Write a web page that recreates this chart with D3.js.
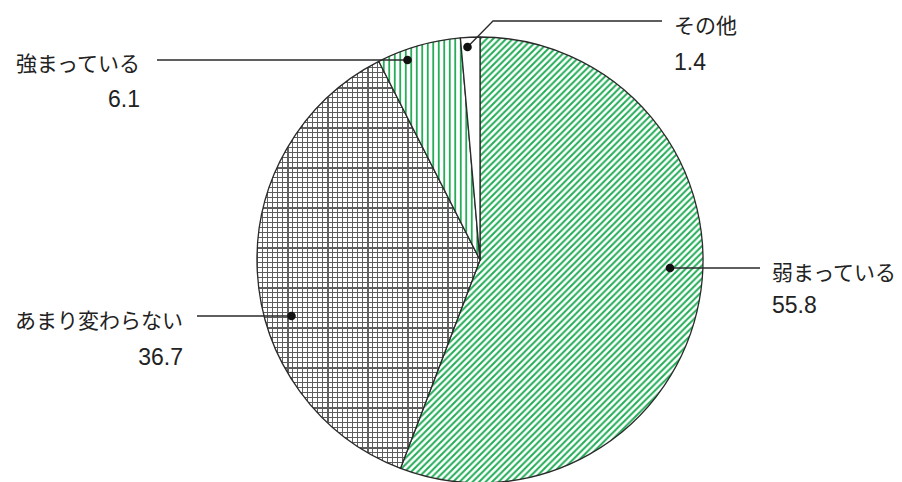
<!DOCTYPE html>
<html lang="ja">
<head>
<meta charset="utf-8">
<script src="https://cdn.jsdelivr.net/npm/d3@7"></script>
<style>
  html, body { margin: 0; padding: 0; background: #fff; }
  svg { display: block; }
</style>
</head>
<body>
<svg id="chart" width="902" height="482"></svg>
<script>
// Survey answers, clockwise from 12 o'clock
const categories = ["弱まっている", "あまり変わらない", "強まっている", "その他"];
const values = [55.8, 36.7, 6.1, 1.4];
const valueLabels = ["55.8", "36.7", "6.1", "1.4"];
const fills = ["url(#diag)", "url(#grid)", "url(#vert)", "#ffffff"];

// Callout layout: dot inside the slice, leader line, label block
const callouts = [
  { dot: [670, 268], path: [[670, 268], [760, 268]], tx: 772, ty: 271, ny: 313, anchor: "start" },
  { dot: [291.5, 316], path: [[291.5, 316], [197, 316]], tx: 183, ty: 319, ny: 365, anchor: "end" },
  { dot: [407.5, 60], path: [[407.5, 60], [157, 60]], tx: 140, ty: 61.5, ny: 107, anchor: "end" },
  { dot: [467.5, 47], path: [[467.5, 47], [493, 21], [662, 21]], tx: 674, ty: 24, ny: 70, anchor: "start" }
];

const green = "#22ac57";
const gridGrey = "#5e5e5e";
const ink = "#2a2a2a";

const svg = d3.select("#chart");
const defs = svg.append("defs");

// diagonal green hatching
const diag = defs.append("pattern").attr("id", "diag")
  .attr("patternUnits", "userSpaceOnUse").attr("width", 6.5).attr("height", 6.5);
diag.append("rect").attr("width", 6.5).attr("height", 6.5).attr("fill", "#fff");
diag.append("path")
  .attr("d", "M-1.625,1.625 L1.625,-1.625 M0,6.5 L6.5,0 M4.875,8.125 L8.125,4.875")
  .attr("stroke", green).attr("stroke-width", 2);

// vertical green hatching
const vert = defs.append("pattern").attr("id", "vert")
  .attr("patternUnits", "userSpaceOnUse").attr("width", 5.5).attr("height", 10);
vert.append("rect").attr("width", 5.5).attr("height", 10).attr("fill", "#fff");
vert.append("line").attr("x1", 2.75).attr("x2", 2.75).attr("y1", 0).attr("y2", 10)
  .attr("stroke", green).attr("stroke-width", 1.8);

// grey grid with heavier lines every eighth cell
const cell = 5, big = 40;
const grid = defs.append("pattern").attr("id", "grid")
  .attr("patternUnits", "userSpaceOnUse").attr("width", big).attr("height", big)
  .attr("x", -33).attr("y", -13);
grid.append("rect").attr("width", big).attr("height", big).attr("fill", "#fff");
d3.range(0, big, cell).forEach((p, i) => {
  const heavy = i === 0;
  const q = heavy ? p + 1 : p + 0.5;
  const w = heavy ? 2 : 1;
  grid.append("line").attr("x1", q).attr("x2", q).attr("y1", 0).attr("y2", big)
    .attr("stroke", gridGrey).attr("stroke-width", w);
  grid.append("line").attr("y1", q).attr("y2", q).attr("x1", 0).attr("x2", big)
    .attr("stroke", gridGrey).attr("stroke-width", w);
});

// pie
const cx = 480, cy = 260, r = 223;
const pie = d3.pie().sort(null).value(d => d)(values);
const arc = d3.arc().innerRadius(0).outerRadius(r);

const g = svg.append("g")
  .attr("transform", `translate(${cx},${cy})`);
g.selectAll("path.slice").data(pie).join("path")
  .attr("class", "slice")
  .attr("d", arc)
  .attr("fill", (d, i) => fills[i])
  .attr("stroke", ink)
  .attr("stroke-width", 1.3)
  .attr("stroke-linejoin", "round");

// callouts
const line = d3.line();
const lab = svg.append("g");
callouts.forEach((c, i) => {
  lab.append("path").attr("d", line(c.path))
    .attr("fill", "none").attr("stroke", ink).attr("stroke-width", 1.3);
  lab.append("circle").attr("cx", c.dot[0]).attr("cy", c.dot[1]).attr("r", 4.3)
    .attr("fill", "#111");
  lab.append("text")
    .attr("x", c.tx).attr("y", c.ty)
    .attr("text-anchor", c.anchor)
    .attr("dominant-baseline", "central")
    .attr("font-family", "'Noto Sans CJK JP', sans-serif")
    .attr("font-size", 21)
    .attr("fill", "#222")
    .text(categories[i]);
  lab.append("text")
    .attr("x", c.tx).attr("y", c.ny)
    .attr("text-anchor", c.anchor)
    .attr("font-family", "'Liberation Sans', Arial, sans-serif")
    .attr("font-size", 23)
    .attr("fill", "#222")
    .text(valueLabels[i]);
});
</script>
</body>
</html>
